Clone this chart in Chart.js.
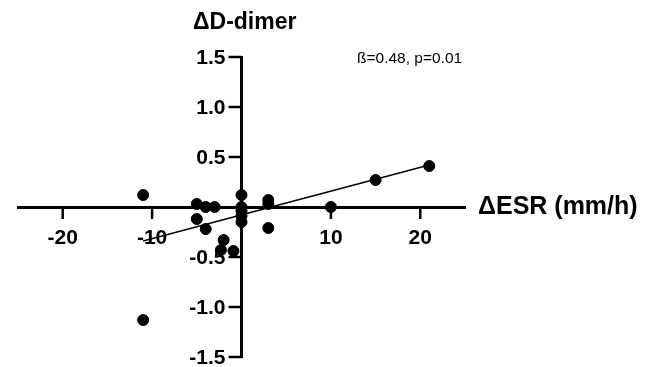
<!DOCTYPE html>
<html>
<head>
<meta charset="utf-8">
<script src="https://cdn.jsdelivr.net/npm/chart.js@4"></script>
<style>
  html, body { margin: 0; padding: 0; background: #fff; overflow: hidden; }
  #wrap { width: 648px; height: 367px; }
</style>
</head>
<body>
<div id="wrap"><canvas id="out"></canvas></div>
<script>
// values
const esr = [-11, -11, -5, -4, -3, -5, -4, -2, -2.3, -0.9, 0, 0, 0, 0, 0, 3, 3, 3, 10, 15, 21];
const dDimer = [0.12, -1.13, 0.03, 0, 0, -0.12, -0.22, -0.33, -0.43, -0.44, 0.12, 0, -0.04, -0.09, -0.15, 0.07, 0.03, -0.21, 0, 0.27, 0.41];
const fitX = [-11, 21];
const fitY = [-0.34, 0.42];
const xTicks = [-20, -10, 10, 20];
const yTicks = [-1.5, -1.0, -0.5, 0.5, 1.0, 1.5];

const font = "'Liberation Sans', Arial, sans-serif";

// tick marks + y tick labels on the crossing axes (chart.js puts the y labels on top of the axis)
const axesPlugin = {
  id: "axes",
  beforeDatasetsDraw(chart) {
    const ctx = chart.ctx;
    const xs = chart.scales.x, ys = chart.scales.y;
    const x0 = xs.getPixelForValue(0), y0 = ys.getPixelForValue(0);
    ctx.save();
    ctx.strokeStyle = "#000";
    ctx.lineWidth = 2.5;
    ctx.beginPath();
    xTicks.forEach(v => {
      const px = xs.getPixelForValue(v);
      ctx.moveTo(px, y0);
      ctx.lineTo(px, y0 + 12);
    });
    yTicks.forEach(v => {
      const py = ys.getPixelForValue(v);
      ctx.moveTo(x0, py);
      ctx.lineTo(x0 - 13, py);
    });
    ctx.stroke();
    ctx.fillStyle = "#000";
    ctx.font = "bold 21px " + font;
    ctx.textAlign = "right";
    ctx.textBaseline = "middle";
    yTicks.forEach(v => {
      ctx.fillText(v.toFixed(1), x0 - 16, ys.getPixelForValue(v) + 1);
    });
    ctx.restore();
  },
  afterDraw(chart) {
    const ctx = chart.ctx;
    const xs = chart.scales.x, ys = chart.scales.y;
    ctx.save();
    ctx.fillStyle = "#000";
    ctx.textBaseline = "middle";
    ctx.textAlign = "left";
    ctx.font = "bold 23px " + font;
    ctx.fillText("ΔD-dimer", 193, 23);
    ctx.font = "bold 25px " + font;
    ctx.fillText("ΔESR (mm/h)", xs.right + 13, ys.getPixelForValue(0));
    ctx.font = "15.5px " + font;
    ctx.fillText("ß=0.48, p=0.01", 357, 59);
    ctx.restore();
  }
};

const points = esr.map((x, i) => ({ x: x, y: dDimer[i] }));
const fit = fitX.map((x, i) => ({ x: x, y: fitY[i] }));

new Chart(document.getElementById("out").getContext("2d"), {
  type: "scatter",
  data: {
    datasets: [
      {
        data: points,
        backgroundColor: "#000",
        borderColor: "#000",
        pointRadius: 5.5,
        pointHoverRadius: 5.5
      },
      {
        type: "line",
        data: fit,
        borderColor: "#000",
        borderWidth: 1.3,
        pointRadius: 0,
        fill: false
      }
    ]
  },
  options: {
    responsive: true,
    maintainAspectRatio: false,
    animation: false,
    events: [],
    clip: false,
    layout: { padding: { left: 18, right: 183, top: 57, bottom: 10 } },
    plugins: { legend: { display: false }, tooltip: { enabled: false } },
    scales: {
      x: {
        type: "linear",
        position: { y: 0 },
        min: -25,
        max: 25,
        afterBuildTicks: s => { s.ticks = xTicks.map(v => ({ value: v })); },
        border: { color: "#000", width: 3 },
        grid: { display: false, drawTicks: false },
        ticks: {
          color: "#000",
          padding: 19,
          maxRotation: 0,
          font: { family: font, size: 21, weight: "bold" }
        }
      },
      y: {
        type: "linear",
        position: { x: 0 },
        min: -1.5,
        max: 1.5,
        afterBuildTicks: s => { s.ticks = yTicks.map(v => ({ value: v })); },
        border: { color: "#000", width: 3 },
        grid: { display: false, drawTicks: false },
        ticks: { display: false }
      }
    }
  },
  plugins: [axesPlugin]
});
</script>
</body>
</html>
